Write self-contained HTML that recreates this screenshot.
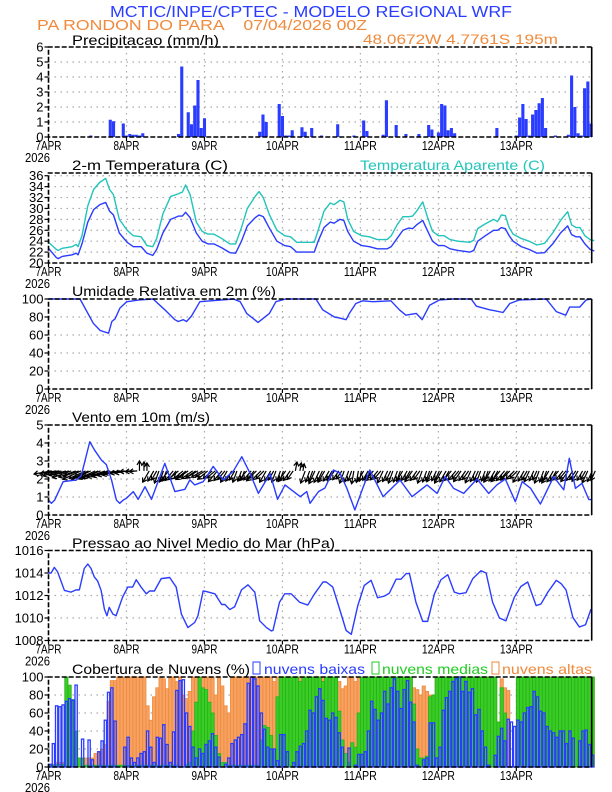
<!DOCTYPE html>
<html><head><meta charset="utf-8"><style>
html,body{margin:0;padding:0;background:#fff;}
svg{display:block;font-family:"Liberation Sans",sans-serif;}
</style></head><body>
<svg id="chart" width="612" height="792" viewBox="0 0 612 792" xmlns="http://www.w3.org/2000/svg">
<rect x="0" y="0" width="612" height="792" fill="#fff"/>
<text x="311" y="17" text-anchor="middle" font-size="16" fill="#2a3cff" textLength="402" lengthAdjust="spacingAndGlyphs">MCTIC/INPE/CPTEC - MODELO REGIONAL WRF</text>
<text x="37" y="30" font-size="15" fill="#f08a3c" textLength="330" lengthAdjust="spacingAndGlyphs" xml:space="preserve">PA RONDON DO PARA    07/04/2026 00Z</text>
<text x="72" y="45" font-size="14" fill="#000" textLength="147" lengthAdjust="spacingAndGlyphs">Precipitacao (mm/h)</text>
<text x="363" y="44" font-size="14" fill="#f08a3c" textLength="195" lengthAdjust="spacingAndGlyphs">48.0672W 4.7761S 195m</text>
<text x="72" y="170" font-size="14" fill="#000" textLength="156" lengthAdjust="spacingAndGlyphs">2-m Temperatura (C)</text>
<text x="360" y="170" font-size="14" fill="#22c4bc" textLength="185" lengthAdjust="spacingAndGlyphs">Temperatura Aparente (C)</text>
<text x="72" y="296" font-size="14" fill="#000" textLength="204" lengthAdjust="spacingAndGlyphs">Umidade Relativa em 2m (%)</text>
<text x="72" y="422" font-size="14" fill="#000" textLength="138" lengthAdjust="spacingAndGlyphs">Vento em 10m (m/s)</text>
<text x="72" y="548" font-size="14" fill="#000" textLength="263" lengthAdjust="spacingAndGlyphs">Pressao ao Nivel Medio do Mar (hPa)</text>
<text x="72" y="674" font-size="14" fill="#000" textLength="178" lengthAdjust="spacingAndGlyphs">Cobertura de Nuvens (%)</text>
<rect x="253" y="662" width="7" height="12" fill="none" stroke="#2a3cff"/>
<text x="264" y="674" font-size="14" fill="#2a3cff" textLength="101" lengthAdjust="spacingAndGlyphs">nuvens baixas</text>
<rect x="372" y="662" width="7" height="12" fill="none" stroke="#22cc22"/>
<text x="382" y="674" font-size="14" fill="#22cc22" textLength="106" lengthAdjust="spacingAndGlyphs">nuvens medias</text>
<rect x="492" y="662" width="7" height="12" fill="none" stroke="#f08a3c"/>
<text x="502" y="674" font-size="14" fill="#f08a3c" textLength="90" lengthAdjust="spacingAndGlyphs">nuvens altas</text>
</svg>
<script>
const dayLabels=["7APR","8APR","9APR","10APR","11APR","12APR","13APR"];
const precipHours=[13,19,20,23,24,25,26,27,28,29,40,41,43,44,45,46,47,48,65,66,67,71,72,73,74,75,78,79,81,84,89,94,97,98,103,104,107,110,114,117,118,120,121,122,123,124,125,138,144,145,146,147,148,149,150,151,152,153,156,160,161,162,163,164,165,166,167];
const precipVals=[0.1,1.15,1.05,0.9,0.1,0.2,0.15,0.15,0.1,0.25,0.2,4.7,1.65,0.85,2.1,3.8,0.6,1.25,0.35,1.5,1.0,2.2,1.4,0.1,0.1,0.45,0.65,0.35,0.6,0.1,0.85,0.1,1.1,0.4,0.15,2.45,0.8,0.2,0.2,0.8,0.5,0.3,2.2,2.1,0.45,0.6,0.25,0.6,0.1,1.3,2.2,1.2,0.1,1.5,1.8,2.25,2.6,0.6,0.1,0.15,4.1,2.0,0.25,0.1,3.25,3.7,0.9];
const tempHours=[0,2.4,3,4.2,7.3,8.5,9.1,10.3,12.1,13.9,15.8,17.6,18.8,20,21.8,24.2,26.1,28.5,30.3,32.1,33.3,35.2,37.6,40,41.2,42.2,43.6,45.5,47.3,49.1,50.9,53.3,55.8,57.6,59.4,61.2,63.6,64.8,66.1,67.9,70.3,72.7,74.5,76.4,78.8,81.8,83,84.8,86.7,87.9,89.7,90.9,92.1,93.9,96.4,98.8,101.2,104.2,105.5,107.3,109.1,110.9,112.1,113.3,115.2,116.6,118.2,120,121.8,123.6,126,129.7,130.9,132.1,134.5,137,138.2,139.4,140.6,141.8,143,145.5,147.9,150.3,152.7,155.2,157.6,159.8,161,162.4,163.6,165.1,166.7,168];
const tempVals=[22.7,21.0,20.8,21.2,21.5,21.8,21.5,23.5,27.5,29.8,30.7,31.1,29.5,28.8,25.5,23.8,23.0,23.0,21.8,21.4,22.5,25.5,28.0,28.6,28.6,29.3,28.3,25.5,24.0,23.5,23.5,22.8,21.9,21.8,24.0,26.8,28.3,28.8,28.5,26.5,24.0,23.2,23.0,22.0,22.0,22.0,24.0,26.5,27.5,27.3,28.0,27.8,25.8,24.0,23.2,23.0,22.6,22.6,23.0,24.5,26.0,26.4,26.3,27.0,27.8,26.0,24.0,23.2,23.2,22.6,22.3,22.0,22.3,24.0,25.0,26.0,26.0,26.5,26.3,25.0,24.0,23.0,22.5,21.8,21.9,23.5,25.5,26.8,25.2,24.8,24.8,23.5,22.5,22.2];
const appTempVals=[23.8,22.5,22.3,22.7,23.0,23.4,23.0,25,30.5,33.5,34.8,35.5,33.5,32.5,28,26,25,24.8,23.2,23.0,24.5,29,32.2,32.7,33,34.3,32.5,27.5,25.8,25.3,25.3,24.5,23.5,23.5,26.5,30,32.2,33.1,32.0,29,26,25,24.8,23.8,23.8,23.8,26,29.5,31.0,30.7,31.5,31.2,28,25.8,25,24.8,24.3,24.3,25,27,28.5,28.5,28.6,29.5,31.2,28.5,25.8,25.0,25.0,24.3,24.0,23.8,24.2,26.3,27.2,28.0,27.6,28.8,28.7,26.5,25.3,24.5,24.0,23.3,23.6,25.5,27.8,29.4,27,26.5,26.5,25,24.3,24.1];
const rhHours=[0,9.7,13.8,15.9,18.5,19.5,20.5,22,24.1,28,32.2,35.8,38.9,39.9,41.5,42.5,44,46.6,56.9,59,61,64.5,68,70,73,82.3,84.4,88,89.5,91.6,92.6,94.6,96.7,99.8,105.4,108,110,113.2,115,117.3,120.4,124.5,130.1,131.7,135.8,137.3,139.9,142,145,153.2,156.3,159.2,160.4,163.5,165.5,167];
const rhVals=[100,100,73,65,62,75,78,90,97,99,100,88,77,75,77,75,81,97,100,97,84,74,84,97,100,100,88,80,79,77,84,95,98,97,98,88,82,84,77,93,99,100,100,92,88,87,85,95,99,100,86,82,91,91,99,100];
const windHours=[0,0.9,1.9,4.5,8.6,10.1,12.7,14.2,16.3,17.8,19.4,20.9,21.9,23,24,26.1,27.6,29.7,31.7,35.8,38.9,42,43.5,45,47.6,50.7,53.8,56.9,59.5,62,64.6,68.2,70.5,72.8,77.5,79.5,80.5,83.1,85.1,87.7,89.7,91.8,94.3,96.9,98.9,103,108.2,111.9,116.5,119.6,122.1,124.7,127.8,131.9,135.5,138,140.6,143.7,145.8,148.4,151.4,155.5,158.6,160.3,162.2,164.2,166.3,167.3];
const windVals=[0.83,0.65,0.83,1.85,1.95,2.2,4.07,3.6,3.05,2.8,1.95,0.83,0.65,0.83,0.93,1.3,0.87,1.57,0.87,2.87,1.3,1.43,1.95,1.67,1.85,2.7,1.94,2.44,3.24,2.33,1.2,2.3,0.87,1.67,1.02,1.3,0.65,1.3,1.5,2.5,2.33,1.5,0.28,1.57,2.5,1.02,1.94,1.02,1.67,1.2,2.13,1.48,1.2,2.0,1.2,1.67,2.0,0.74,1.85,1.48,0.61,2.13,1.4,3.15,1.48,1.76,0.86,0.86];
const windArrowDir=[190,195,200,205,205,200,195,190,185,90,240,250,230,220,215,210,220,230,240,250,230,225,240,250,235,80,250,245,240,235,250,260,240,230,245,250,240,235,250,245,240,230,235,245,250,240,230,225,240,245,250,240,230,235,240,245];
const windArrowLen=[18,19,20,20,21,21,20,16,10,10,13,13,14,13,15,14,13,14,13,12,13,14,13,12,13,9,13,14,13,12,13,13,12,13,13,13,12,13,13,12,14,13,13,13,12,13,14,13,13,12,13,14,13,13,12,13];
const presHours=[0,0.8,1.8,2.8,4.9,6.9,8.5,9.5,11,12.1,13.1,14.1,15.1,16.2,17.2,18,18.7,19.8,20.8,22.8,24.4,25.9,27,28.5,30.1,31.1,32.6,34.7,37.3,39.3,40.9,42.9,45,46,47.6,48.6,51.2,53.3,54.3,55.8,57.3,59.4,61.4,63.5,65,67.1,68.6,69.1,71.1,72.7,74.7,77.3,79.8,81.9,84.5,85.5,87.5,89.6,91.6,93.2,95.2,97.2,99.3,101.3,103.4,104.9,107,108.5,110.1,111.1,113.1,115.2,116.7,118.8,120.8,122.9,124.9,126.5,128.5,130.6,133.1,134.7,136.7,138.8,140.8,143.4,145.4,147.5,150.1,151.6,153.7,156.3,157.8,159.3,161.4,163.4,165.3,167];
const presVals=[1014.0,1014.0,1014.5,1014.1,1012.45,1012.3,1012.5,1012.5,1014.4,1014.8,1014.4,1013.65,1013.3,1012.45,1010.8,1010.2,1010.95,1010.35,1010.2,1011.85,1012.75,1012.75,1013.4,1012.75,1012.15,1012.4,1012.4,1013.5,1013.6,1012.75,1010.35,1009.15,1009.6,1010.2,1012.4,1012.35,1012.15,1011.2,1011.2,1010.75,1011.0,1012.5,1012.95,1012.3,1009.75,1009.15,1008.85,1008.9,1011.4,1012.15,1012.15,1011.4,1011.15,1012.15,1013.2,1013.2,1012.75,1010.8,1008.9,1008.55,1011.1,1012.9,1013.35,1011.8,1011.95,1012.2,1013.45,1013.45,1013.95,1013.95,1011.4,1009.7,1009.7,1012.15,1013.4,1013.85,1012.3,1012.15,1012.25,1013.5,1014.2,1014.0,1011.4,1010.0,1009.75,1011.85,1012.8,1013.2,1011.1,1011.25,1012.3,1013.35,1013.05,1012.5,1010.05,1009.2,1009.4,1010.8];
const cloudLow=[3,26,68,67,69,73,76,74,91,0,31,0,30,8,0,17,29,52,83,88,51,0,0,22,33,10,5,10,15,17,40,22,5,33,32,47,25,5,39,85,96,97,60,45,22,10,20,15,25,29,37,22,11,0,3,10,26,30,33,36,48,93,100,98,90,60,42,22,20,20,7,36,36,17,0,5,17,23,26,40,63,60,78,87,74,54,52,60,55,38,22,0,21,0,2,14,14,17,40,73,64,52,60,84,70,88,98,84,65,86,96,72,50,2,0,8,10,49,49,10,22,63,77,84,95,98,100,84,95,83,87,58,64,40,22,2,0,13,34,43,29,53,50,45,52,50,60,66,67,84,78,62,60,45,40,38,33,40,40,26,40,32,0,29,40,41,25,13];
const cloudMid=[2,2,3,3,3,100,91,75,40,10,10,2,2,2,2,2,2,2,2,2,2,2,2,2,2,2,2,2,2,2,2,2,2,2,2,2,2,2,2,2,0,0,3,5,40,72,100,88,86,72,60,35,15,5,5,2,2,2,2,2,2,2,2,2,2,30,46,44,35,20,78,100,100,100,100,100,100,95,100,100,100,100,100,100,95,100,100,100,100,62,30,15,5,27,22,60,100,100,100,100,100,100,100,100,100,100,100,100,100,100,100,100,70,20,10,10,12,78,80,100,100,100,100,100,100,100,100,100,100,100,100,100,100,100,100,100,100,100,50,88,60,0,0,0,100,100,100,100,100,100,100,100,100,100,100,100,100,100,100,100,100,100,100,100,100,100,100,100];
const cloudHigh=[3,3,5,5,5,5,3,3,3,10,10,10,10,10,15,17,20,25,73,96,96,100,100,100,100,100,100,100,100,100,68,52,78,88,100,98,87,100,100,95,100,80,76,84,100,100,100,100,100,100,100,80,100,90,68,60,100,100,100,100,100,100,100,100,100,100,100,100,100,95,100,100,100,100,100,100,100,100,100,100,100,100,100,100,100,95,95,90,100,95,87,90,100,100,95,100,100,100,100,100,100,100,100,100,100,100,100,100,100,100,100,100,88,86,80,90,84,80,60,100,100,100,100,100,100,100,100,100,100,100,100,95,88,90,100,97,94,95,50,98,88,85,0,0,100,100,100,95,100,100,100,100,95,100,100,100,100,100,100,100,95,100,100,100,100,100,100,100];
const precipTicks=[0,1,2,3,4,5,6];
const tempTicks=[20,22,24,26,28,30,32,34,36];
const pctTicks=[0,20,40,60,80,100];
const windTicks=[0,1,2,3,4,5];
const presTicks=[1008,1010,1012,1014,1016];

const NS="http://www.w3.org/2000/svg";
const svg=document.getElementById("chart");
const X0=48.5,X1=591.7,HMAX=167.2;
function xh(h){return X0+(X1-X0)*h/HMAX;}
function mk(tag,attrs,parent){const e=document.createElementNS(NS,tag);for(const k in attrs)e.setAttribute(k,attrs[k]);(parent||svg).appendChild(e);return e;}
function yScale(top,bot,lo,hi){return v=>bot-(v-lo)/(hi-lo)*(bot-top);}

function panel(name,top,bot,lo,hi,ticks){
  const g=mk("g",{});
  
  
  const ys=yScale(top,bot,lo,hi);
  ticks.forEach(t=>{
    const y=ys(t);
    if(y>top+1&&y<bot-1){const gl=mk("line",{x1:X0,x2:X1,y1:y,y2:y,stroke:"#aaa","stroke-width":1.2,"stroke-dasharray":"1.5,4.5"},g);
      
      }
    const tk=mk("line",{x1:X0-4,x2:X0,y1:y,y2:y,stroke:"#000","stroke-width":1.2},g);
    
    
    const tx=mk("text",{x:X0-5,y:y+4.5,"text-anchor":"end","font-size":13,fill:"#000"},g);
    
    
    tx.textContent=t;
  });
  dayLabels.forEach((d,i)=>{
    const x=xh(i*24);
    if(i>0){const gl=mk("line",{x1:x,x2:x,y1:top,y2:bot,stroke:"#aaa","stroke-width":1.2,"stroke-dasharray":"1.5,4.5"},g);
      
      }
    const tk=mk("line",{x1:x,x2:x,y1:bot,y2:bot+4,stroke:"#000","stroke-width":1.2},g);
    
    
    const tx=mk("text",{x:x,y:bot+13,"text-anchor":"middle","font-size":12.5,fill:"#000",textLength:d.length>4?33:26,lengthAdjust:"spacingAndGlyphs"},g);
    
    
    tx.textContent=d;
  });
  const yr=mk("text",{x:25,y:bot+25,"font-size":12.5,fill:"#000",textLength:25,lengthAdjust:"spacingAndGlyphs"},g);
  
  
  yr.textContent="2026";
  return {g,ys,top,bot};
}
function frame(p){
  const f=mk("path",{d:`M${X1},${p.top} H${X0} V${p.bot} H${X1}`,fill:"none",stroke:"#000","stroke-width":1.6,"stroke-dasharray":"5,2"},p.g);
  
  
  const r=mk("line",{x1:X1,x2:X1,y1:p.top,y2:p.bot,stroke:"#000","stroke-width":1.6},p.g);
  
  
}
function line(p,hours,vals,color,name){
  const d=hours.map((h,i)=>(i?"L":"M")+xh(h).toFixed(2)+","+p.ys(vals[i]).toFixed(2)).join(" ");
  const l=mk("path",{d:d,fill:"none",stroke:color,"stroke-width":1.4,"stroke-linejoin":"round"},p.g);
  
  
}

// Precip
const pP=panel("precip",47,137,0,6,precipTicks);
precipHours.forEach((h,i)=>{
  const y=pP.ys(precipVals[i]);
  const b=mk("rect",{x:xh(h)-1.5,y:y,width:3.1,height:pP.bot-y,fill:"#2a3cff"},pP.g);
  
  
});
frame(pP);

// Temp
const pT=panel("temperature",173,263,20,36.5,tempTicks);
line(pT,tempHours,appTempVals,"#22c4bc","apparent-temp-line");
line(pT,tempHours,tempVals,"#2a3cff","temp-line");
frame(pT);

// RH
const pR=panel("humidity",299,389,0,100,pctTicks);
line(pR,rhHours,rhVals,"#2a3cff","humidity-line");
frame(pR);

// Wind
const pW=panel("wind",425,515,0,5,windTicks);
const wy=pW.ys(2.45);
function arrow(x,dir,L){
  const a=dir*Math.PI/180,ax=Math.cos(a),ay=-Math.sin(a);
  const x1=x,y1=wy,x2=x+ax*L,y2=wy+ay*L;
  const hx1=x2-ax*4-ay*2.5,hy1=y2-ay*4+ax*2.5,hx2=x2-ax*4+ay*2.5,hy2=y2-ay*4-ax*2.5;
  const ar=mk("path",{d:`M${x1},${y1} L${x2},${y2} M${hx1},${hy1} L${x2},${y2} L${hx2},${hy2}`,stroke:"#000","stroke-width":1.2,fill:"none"},pW.g);
  
  
}
windArrowDir.forEach((dir,i)=>{
  const x=xh(i*3+1);
  arrow(x,dir,windArrowLen[i]);
  arrow(x+4.5,dir,windArrowLen[i]*0.9);
  arrow(x+7.5,dir,windArrowLen[i]*0.8);
});
line(pW,windHours,windVals,"#2a3cff","wind-speed-line");
frame(pW);

// Pressure
const pS=panel("pressure",550.5,640.5,1008,1016,presTicks);
line(pS,presHours,presVals,"#2a3cff","pressure-line");
frame(pS);

// Clouds
const pC=panel("cloud",677,767,0,100,pctTicks);
const bw=(X1-X0)/HMAX;
cloudHigh.forEach((v,h)=>{
  const y=pC.ys(v);
  const b=mk("rect",{x:xh(h),y:y,width:bw,height:pC.bot-y,fill:"#f7a262",stroke:"#ee8a3a","stroke-width":0.8},pC.g);
  
  
});
cloudMid.forEach((v,h)=>{
  const y=pC.ys(v);
  const b=mk("rect",{x:xh(h),y:y,width:bw,height:pC.bot-y,fill:"#3ccc26",stroke:"#22b31a","stroke-width":0.8},pC.g);
  
  
});
cloudLow.forEach((v,h)=>{
  const y=pC.ys(v);
  const b=mk("rect",{x:xh(h)+0.5,y:y,width:bw-1,height:pC.bot-y,fill:"none",stroke:"#2a3cff","stroke-width":1.3},pC.g);
  
  
});
frame(pC);
</script>
</body></html>
